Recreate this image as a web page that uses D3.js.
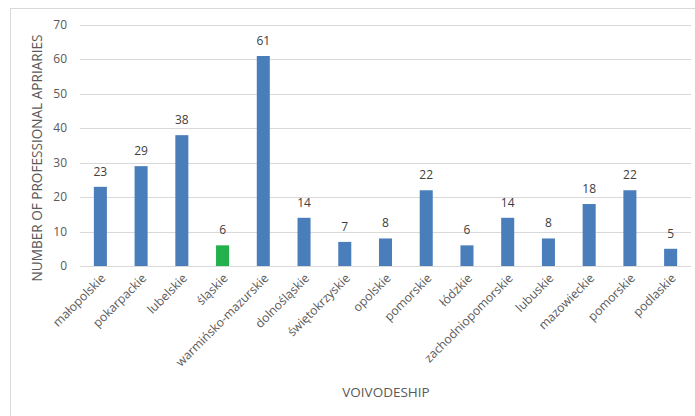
<!DOCTYPE html>
<html><head><meta charset="utf-8">
<script src="https://cdn.jsdelivr.net/npm/d3@7"></script>
<style>body{margin:0;background:#fff}svg{display:block;font-family:"Open Sans","Noto Sans","DejaVu Sans",sans-serif}</style>
</head><body><svg id="c" width="695" height="416"></svg>
<script>
const categories = ["małopolskie","pokarpackie","lubelskie","śląskie","warmińsko-mazurskie","dolnośląskie","świętokrzyskie","opolskie","pomorskie","łódzkie","zachodniopomorskie","lubuskie","mazowieckie","pomorskie","podlaskie"];
const values = [23,29,38,6,61,14,7,8,22,6,14,8,18,22,5];
const highlighted = ["śląskie"];
const yTicks = [0,10,20,30,40,50,60,70];
const yTitle = "NUMBER OF PROFESSIONAL APRIARIES";
const xTitle = "VOIVODESHIP";

const svg = d3.select("#c");
svg.append("rect").attr("x",10.5).attr("y",8.5).attr("width",700).attr("height",420).attr("fill","#fff").attr("stroke","#d9d9d9");
const m = {l:80,r:691,t:25,b:266};
const x = d3.scaleBand().domain(d3.range(categories.length)).range([m.l,m.r]).paddingInner(0.68).paddingOuter(0.34);
const y = d3.scaleLinear().domain([0,70]).range([m.b,m.t]);

const g = svg.append("g");
g.selectAll("line.grid").data(yTicks).join("line")
 .attr("x1",m.l).attr("x2",m.r).attr("y1",d=>Math.round(y(d))+0.5).attr("y2",d=>Math.round(y(d))+0.5)
 .attr("stroke","#d9d9d9").attr("stroke-width",1);
g.selectAll("text.yt").data(yTicks).join("text")
 .attr("x",67).attr("y",d=>y(d)+4).attr("text-anchor","end").attr("font-size",12).attr("fill","#595959").text(d=>d);

g.selectAll("rect.bar").data(values).join("rect")
 .attr("x",(d,i)=>x(i)).attr("width",x.bandwidth()).attr("y",d=>y(d)).attr("height",d=>y(0)-y(d))
 .attr("fill",(d,i)=>highlighted.includes(categories[i])?"#22b14c":"#4a7ebb");
g.selectAll("text.lbl").data(values).join("text")
 .attr("x",(d,i)=>x(i)+x.bandwidth()/2).attr("y",d=>y(d)-11).attr("text-anchor","middle")
 .attr("font-size",12).attr("fill","#404040").text(d=>d);

g.selectAll("text.cat").data(categories).join("text")
 .attr("transform",(d,i)=>`translate(${x(i)+x.bandwidth()/2+6},${279}) rotate(-45)`)
 .attr("text-anchor","end").attr("font-size",12.2).attr("fill","#595959").text(d=>d);

svg.append("text").attr("transform",`translate(42,158) rotate(-90)`).attr("text-anchor","middle")
 .attr("font-size",13.6).attr("fill","#595959").text(yTitle);
svg.append("text").attr("x",386).attr("y",397).attr("text-anchor","middle").attr("font-size",13.5).attr("fill","#595959").text(xTitle);
</script></body></html>
